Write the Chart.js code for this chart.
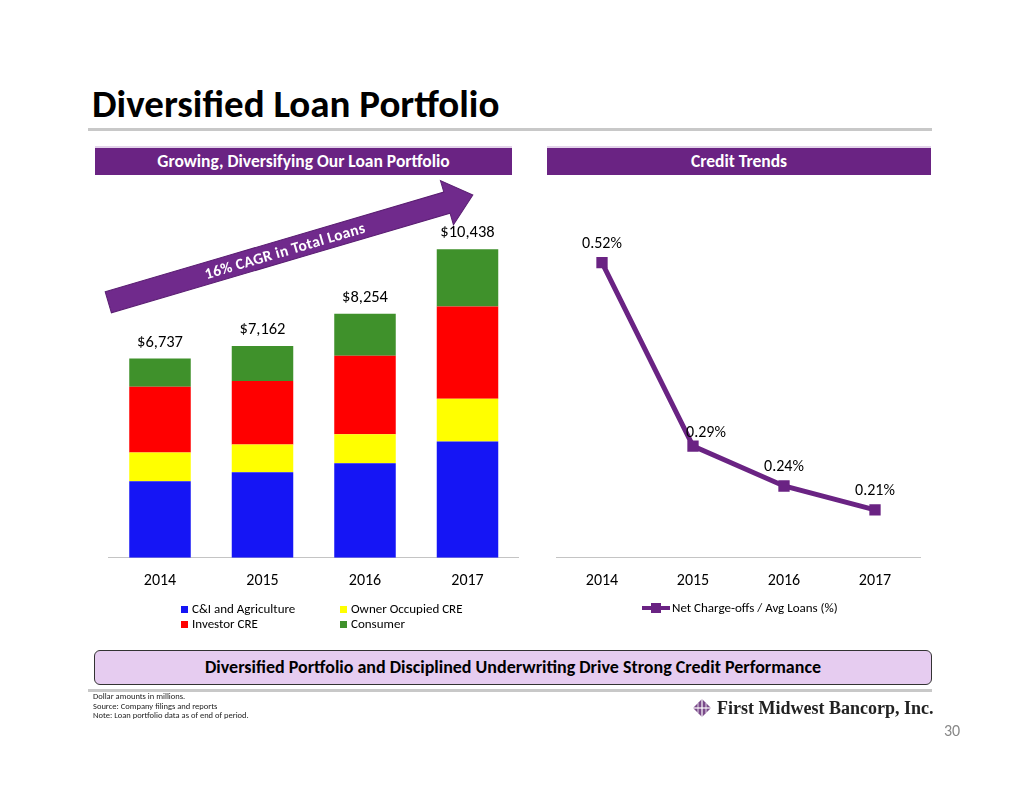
<!DOCTYPE html>
<html>
<head>
<meta charset="utf-8">
<script src="https://cdn.jsdelivr.net/npm/chart.js@4/dist/chart.umd.min.js"></script>
<style>
  body { margin: 0; background: #fff; font-family: Carlito, Lato, sans-serif; }
  #slide { position: relative; width: 1024px; height: 791px; overflow: hidden; background: #fff; }
  .abs { position: absolute; }
  #title { left: 92px; top: 80px; font-size: 39px; font-weight: bold; color: #000; white-space: nowrap; }
  .rule { background: #c8c8c8; left: 88px; width: 844px; height: 3px; }
  .banner { top: 146px; height: 27px; background: #6a2383; border-top: 2px solid #e3d3ea; color: #fff;
            font-weight: bold; font-size: 17.5px; line-height: 27px; text-align: center; }
  .chartbox { position: absolute; }
  .legend { font-size: 13px; color: #000; white-space: nowrap; }
  .legend .sw { display: inline-block; width: 7px; height: 7px; margin-right: 4px; vertical-align: 0px; }
  #takeaway { left: 94px; top: 650px; width: 836px; height: 33px; background: #e6ccf0; border: 1.5px solid #333;
              border-radius: 6px; font-weight: bold; font-size: 18px; line-height: 33px; text-align: center; color: #000; }
  #notes { left: 93px; top: 692px; font-size: 8.5px; line-height: 9.5px; color: #222; }
  #logo { left: 717px; top: 698px; font-family: "Liberation Serif", serif; font-weight: bold; font-size: 18px; color: #222; white-space: nowrap; }
  #page { left: 944px; top: 721px; font-size: 16px; color: #888; }
</style>
</head>
<body>
<div id="slide">
  <div class="abs" id="title">Diversified Loan Portfolio</div>
  <div class="abs rule" style="top:128px"></div>

  <div class="abs banner" style="left:95px;width:417px">Growing, Diversifying Our Loan Portfolio</div>
  <div class="abs banner" style="left:547px;width:384px">Credit Trends</div>

  <div class="chartbox" style="left:90px;top:160px;width:440px;height:441px"><canvas id="loans"></canvas></div>
  <div class="chartbox" style="left:540px;top:160px;width:400px;height:441px"><canvas id="credit"></canvas></div>

  <svg class="abs" width="1024" height="791" style="left:0;top:0;pointer-events:none">
    <g transform="translate(108.3,302.3) rotate(-16.4)">
      <polygon points="0,-11 353,-11 353,-23 380,0 353,23 353,11 0,11" fill="#702a8c" stroke="#5b1f73" stroke-width="1"/>
      <text x="184" y="5.5" text-anchor="middle" fill="#fff" font-weight="bold" font-size="15.5"
            font-family="Carlito, Lato, sans-serif" letter-spacing="0.4">16% CAGR in Total Loans</text>
    </g>
  </svg>

  <div class="abs legend" id="legendLeft" style="left:181px;top:601px"></div>
  <div class="abs legend" id="legendRight" style="left:642px;top:600px"></div>

  <div class="abs" id="takeaway">Diversified Portfolio and Disciplined Underwriting Drive Strong Credit Performance</div>
  <div class="abs rule" style="top:689px"></div>

  <div class="abs" id="notes">Dollar amounts in millions.<br>Source: Company filings and reports<br>Note: Loan portfolio data as of end of period.</div>
  <svg class="abs" width="20" height="20" style="left:692px;top:698px">
    <polygon points="10,1 19,10 10,19 1,10" fill="#7a4a8a"/>
    <line x1="10" y1="1" x2="10" y2="19" stroke="#fff" stroke-width="1.2"/>
    <line x1="1" y1="10" x2="19" y2="10" stroke="#fff" stroke-width="1.2"/>
    <line x1="6" y1="5" x2="6" y2="15" stroke="#fff" stroke-width="0.8"/>
    <line x1="14" y1="5" x2="14" y2="15" stroke="#fff" stroke-width="0.8"/>
  </svg>
  <div class="abs" id="logo">First Midwest Bancorp, Inc.</div>
  <div class="abs" id="page">30</div>
</div>

<script>
// values ($ millions)
const years = ['2014', '2015', '2016', '2017'];
const cniAg = [2590, 2890, 3200, 3930];
const ownerOccupied = [975, 940, 975, 1450];
const investorCre = [2220, 2150, 2660, 3120];
const consumer = [952, 1182, 1419, 1938];
const totals = [6737, 7162, 8254, 10438];

const chargeOffs = [0.52, 0.29, 0.24, 0.21];

const fontFam = 'Carlito, Lato, sans-serif';
const purple = '#6a2383';

Chart.defaults.font.family = fontFam;
Chart.defaults.color = '#000';

const loanSeries = [
    { label: 'C&I and Agriculture', data: cniAg, backgroundColor: '#1515f5' },
    { label: 'Owner Occupied CRE', data: ownerOccupied, backgroundColor: '#ffff00' },
    { label: 'Investor CRE', data: investorCre, backgroundColor: '#ff0000' },
    { label: 'Consumer', data: consumer, backgroundColor: '#3f912b' }
];

const totalLabels = {
    id: 'totalLabels',
    afterDatasetsDraw(chart) {
        const ctx = chart.ctx;
        const meta = chart.getDatasetMeta(chart.data.datasets.length - 1);
        ctx.save();
        ctx.font = '16.5px ' + fontFam;
        ctx.fillStyle = '#000';
        ctx.textAlign = 'center';
        ctx.textBaseline = 'alphabetic';
        meta.data.forEach((bar, i) => {
            ctx.fillText('$' + totals[i].toLocaleString('en-US'), bar.x, bar.y - 12);
        });
        ctx.restore();
    }
};

const pointLabels = {
    id: 'pointLabels',
    afterDatasetsDraw(chart) {
        const ctx = chart.ctx;
        const meta = chart.getDatasetMeta(0);
        ctx.save();
        ctx.font = '16px ' + fontFam;
        ctx.fillStyle = '#000';
        ctx.textAlign = 'center';
        meta.data.forEach((pt, i) => {
            // the 2015 label sits a bit to the right, over the line
            const dx = i === 1 ? 13 : 0;
            const dy = i === 1 ? -9 : -15;
            ctx.fillText(chargeOffs[i].toFixed(2) + '%', pt.x + dx, pt.y + dy);
        });
        ctx.restore();
    }
};

const loansChart = new Chart(document.getElementById('loans'), {
    type: 'bar',
    data: {
        labels: years,
        datasets: loanSeries.map(s => ({ ...s, borderWidth: 0, barPercentage: 0.6, categoryPercentage: 1.0 }))
    },
    options: {
        responsive: true,
        maintainAspectRatio: false,
        animation: false,
        layout: { padding: { left: 18.75, right: 11.25, top: 43, bottom: 4 } },
        plugins: { legend: { display: false }, tooltip: { enabled: false } },
        scales: {
            x: {
                stacked: true,
                grid: { display: false },
                border: { color: '#c4c4c4', width: 1 },
                ticks: { font: { size: 16 }, padding: 6, color: '#000' }
            },
            y: { stacked: true, display: false, min: 0, max: 12000 }
        }
    },
    plugins: [totalLabels]
});

const creditChart = new Chart(document.getElementById('credit'), {
    type: 'line',
    data: {
        labels: years,
        datasets: [{
            label: 'Net Charge-offs / Avg Loans (%)',
            data: chargeOffs,
            borderColor: purple,
            backgroundColor: purple,
            borderWidth: 5,
            pointStyle: 'rect',
            pointRadius: 8,
            pointBorderWidth: 0,
            tension: 0
        }]
    },
    options: {
        responsive: true,
        maintainAspectRatio: false,
        animation: false,
        layout: { padding: { left: 16.5, right: 19.5, top: 38.8, bottom: 4 } },
        plugins: { legend: { display: false }, tooltip: { enabled: false } },
        scales: {
            x: {
                offset: true,
                grid: { display: false },
                border: { color: '#c4c4c4', width: 1 },
                ticks: { font: { size: 16 }, padding: 6, color: '#000' }
            },
            y: { display: false, min: 0.15, max: 0.6 }
        }
    },
    plugins: [pointLabels]
});

// legends, built from the dataset labels
const legendLeft = document.getElementById('legendLeft');
const order = [[0, 1], [2, 3]];
legendLeft.innerHTML = order.map(row =>
    '<div style="height:15px">' + row.map(i =>
        '<span style="display:inline-block;width:159px"><span class="sw" style="background:' +
        loanSeries[i].backgroundColor + '"></span>' + loanSeries[i].label.replace('&', '&amp;') + '</span>'
    ).join('') + '</div>'
).join('');

const legendRight = document.getElementById('legendRight');
legendRight.innerHTML =
    '<span style="display:inline-block;position:relative;width:28px;height:10px;margin-right:2px;vertical-align:-1px">' +
    '<span style="position:absolute;left:0;top:3px;width:28px;height:4px;background:' + purple + '"></span>' +
    '<span style="position:absolute;left:9px;top:0;width:10px;height:10px;background:' + purple + '"></span></span>' +
    creditChart.data.datasets[0].label;
</script>
</body>
</html>
